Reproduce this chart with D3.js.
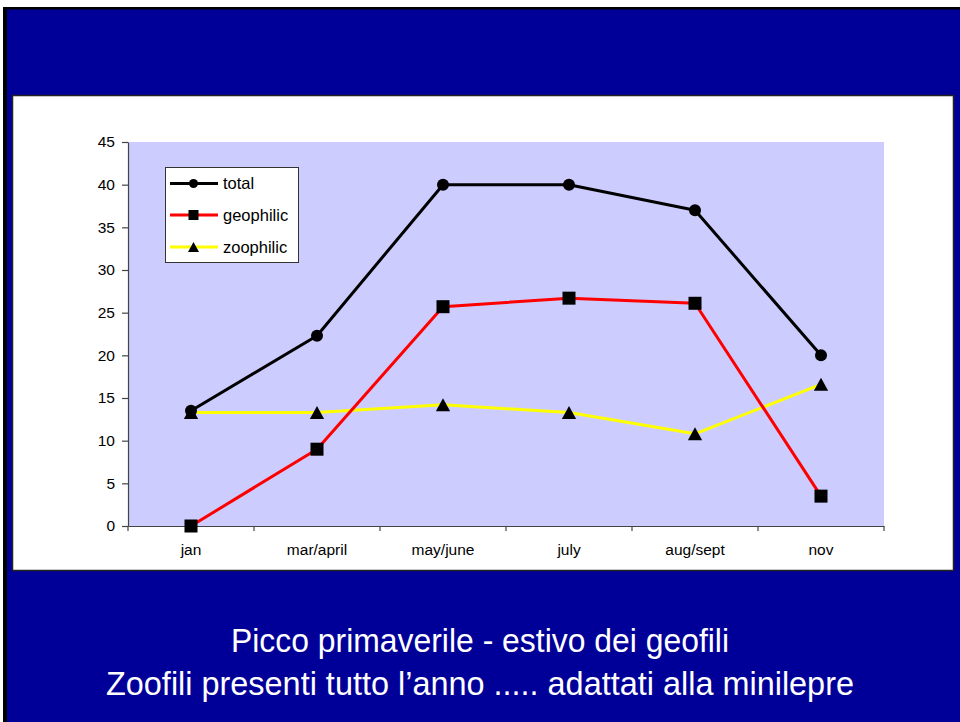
<!DOCTYPE html>
<html><head><meta charset="utf-8">
<script src="https://cdn.jsdelivr.net/npm/d3@7"></script>
<style>html,body{margin:0;padding:0;background:#fff;overflow:hidden}svg{display:block}</style>
</head><body>
<script>
const categories = ["jan","mar/april","may/june","july","aug/sept","nov"];
const total      = [13.5, 22.3, 40, 40, 37, 20];
const geophilic  = [0, 9, 25.7, 26.7, 26.1, 3.5];
const zoophilic  = [13.3, 13.3, 14.2, 13.3, 10.8, 16.6];
const yTicks     = [0,5,10,15,20,25,30,35,40,45];
const seriesNames = ["total","geophilic","zoophilic"];
const captionLines = ["Picco primaverile - estivo dei geofili","Zoofili presenti tutto l\u2019anno ..... adattati alla minilepre"];

const W=960,H=722;
const svg=d3.select("body").append("svg").attr("width",W).attr("height",H);
svg.append("rect").attr("x",3).attr("y",7).attr("width",W-3).attr("height",H-7).attr("fill","#000");
svg.append("rect").attr("x",7).attr("y",9.5).attr("width",W-7).attr("height",H-9.5).attr("fill","#000099");
svg.append("rect").attr("x",12.5).attr("y",95.5).attr("width",941).attr("height",475).attr("fill","#fff").attr("stroke","#222").attr("stroke-width",1.5);

const x=d3.scaleBand().domain(categories).range([128,884]);
const y=d3.scaleLinear().domain([0,45]).range([526,142]);

svg.append("rect").attr("x",128).attr("y",y(45)).attr("width",884-128).attr("height",y(0)-y(45)).attr("fill","#CCCCFF");

const font="'Liberation Sans', Arial, sans-serif";
const yAxis=svg.append("g").attr("transform","translate(128,0)")
  .call(d3.axisLeft(y).tickValues(yTicks).tickSize(6).tickPadding(7).tickSizeOuter(0));
const xAxis=svg.append("g").attr("transform","translate(0,526)")
  .call(d3.axisBottom(x).tickSize(0).tickPadding(18).tickSizeOuter(0));
[yAxis,xAxis].forEach(g=>{
  g.selectAll("path,line").attr("stroke","#444").attr("stroke-width",1.2);
  g.selectAll("text").attr("font-family",font).attr("font-size",15.5).attr("fill","#000");
});
const bounds=categories.map(c=>x(c)).concat([x.range()[1]]);
svg.append("g").selectAll("line").data(bounds).join("line")
  .attr("x1",d=>d).attr("x2",d=>d).attr("y1",526).attr("y2",531)
  .attr("stroke","#444").attr("stroke-width",1.2);

const series=[
  {name:seriesNames[0],values:total,color:"#000000",marker:"circle"},
  {name:seriesNames[1],values:geophilic,color:"#FF0000",marker:"square"},
  {name:seriesNames[2],values:zoophilic,color:"#FFFF00",marker:"triangle"}
];
const cx=c=>x(c)+x.bandwidth()/2;
const line=d3.line().x((d,i)=>cx(categories[i])).y(d=>y(d));

function marker(g,type,px,py,s){
  if(type==="circle") g.append("circle").attr("cx",px).attr("cy",py).attr("r",s*0.5).attr("fill","#000");
  else if(type==="square") g.append("rect").attr("x",px-s/2).attr("y",py-s/2).attr("width",s).attr("height",s).attr("fill","#000");
  else g.append("path").attr("d",`M${px},${py-s*0.5}L${px+s*0.55},${py+s*0.5}L${px-s*0.55},${py+s*0.5}Z`).attr("fill","#000");
}
[series[2],series[1],series[0]].forEach(s=>{
  svg.append("path").datum(s.values).attr("d",line).attr("fill","none")
    .attr("stroke",s.color).attr("stroke-width",3).attr("stroke-linejoin","round");
});
[series[2],series[1],series[0]].forEach(s=>{
  const g=svg.append("g");
  s.values.forEach((v,i)=>marker(g,s.marker,cx(categories[i]),y(v),s.marker==="circle"?12:13));
});

const lg=svg.append("g");
lg.append("rect").attr("x",165.5).attr("y",167.5).attr("width",133).attr("height",95).attr("fill","#fff").attr("stroke","#333").attr("stroke-width",1);
const ly=[183.5,215,247];
series.forEach((s,i)=>{
  lg.append("line").attr("x1",170).attr("x2",218).attr("y1",ly[i]).attr("y2",ly[i]).attr("stroke",s.color).attr("stroke-width",3);
  marker(lg,s.marker,193.5,ly[i],s.marker==="circle"?9:10);
  lg.append("text").attr("x",223).attr("y",ly[i]).attr("dy","0.35em").attr("font-family",font).attr("font-size",16.5).text(s.name);
});

const capW=[498,748], capY=[652,695];
captionLines.forEach((t,i)=>{
  svg.append("text").attr("x",480).attr("y",capY[i]).attr("text-anchor","middle")
    .attr("font-family","'Liberation Sans Narrow','Liberation Sans',Arial,sans-serif").attr("font-size",33)
    .attr("fill","#fff").attr("textLength",capW[i]).attr("lengthAdjust","spacingAndGlyphs").text(t);
});
</script>
</body></html>
